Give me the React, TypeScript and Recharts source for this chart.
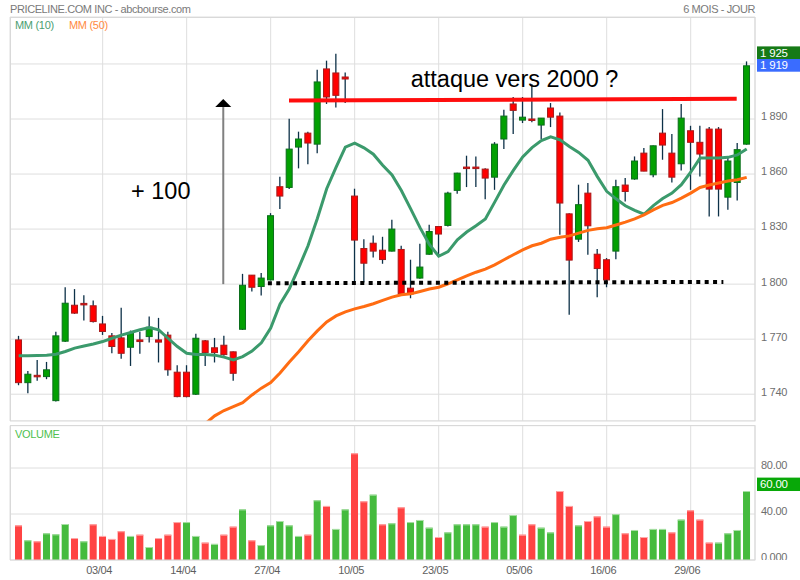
import React from 'react';
import {
  ComposedChart,
  Bar,
  Line,
  XAxis,
  YAxis,
  CartesianGrid,
  ReferenceLine,
  ReferenceDot,
} from 'recharts';

const FONT = "'Liberation Sans', Arial, Helvetica, sans-serif";

// ---- data ----
const opens = [
  1769.6, 1746.3, 1750.3, 1749.6, 1736.5, 1768.9, 1788.5, 1789.5, 1788.2, 1778.3,
  1771.8, 1770.7, 1765.6, 1769.6, 1771.4, 1769.6, 1772.2, 1752.0, 1752.0, 1740.0,
  1769.1, 1765.3, 1766.7, 1763.1, 1775.4, 1804.9, 1798.7, 1802.3, 1853.1, 1852.7,
  1874.7, 1882.3, 1876.3, 1917.3, 1915.1, 1912.9, 1848.0, 1819.4, 1822.3, 1818.5,
  1818.0, 1818.9, 1797.8, 1803.3, 1816.3, 1831.4, 1832.0, 1851.1, 1863.8, 1863.8,
  1862.7, 1858.3, 1879.1, 1898.2, 1889.4, 1890.0, 1886.7, 1896.0, 1891.6, 1838.3,
  1824.5, 1849.6, 1816.3, 1813.3, 1818.0, 1854.0, 1857.3, 1871.4, 1859.6, 1882.3,
  1871.4, 1865.6, 1883.6, 1877.3, 1884.5, 1884.5, 1847.4, 1855.4, 1876.3,
];
const highs = [
  1771.8, 1752.7, 1758.7, 1757.6, 1774.0, 1798.3, 1797.3, 1794.0, 1791.1, 1782.7,
  1773.3, 1787.1, 1774.7, 1774.0, 1782.3, 1781.6, 1774.0, 1755.8, 1755.8, 1772.9,
  1769.6, 1770.7, 1771.8, 1763.3, 1805.6, 1805.0, 1806.0, 1838.7, 1858.5, 1890.2,
  1883.1, 1883.1, 1916.9, 1921.8, 1925.6, 1915.3, 1852.0, 1824.5, 1826.5, 1825.8,
  1835.1, 1820.9, 1813.3, 1822.0, 1832.3, 1831.5, 1850.3, 1860.7, 1870.0, 1869.6,
  1863.2, 1877.4, 1895.1, 1902.0, 1902.0, 1909.1, 1890.6, 1898.7, 1893.6, 1838.7,
  1854.2, 1855.1, 1819.1, 1814.2, 1856.9, 1857.8, 1869.6, 1874.2, 1875.5, 1895.4,
  1881.8, 1898.2, 1886.3, 1886.3, 1885.6, 1885.6, 1869.3, 1876.9, 1921.4,
];
const lows = [
  1744.9, 1740.5, 1747.4, 1748.2, 1736.0, 1768.5, 1783.8, 1780.2, 1779.1, 1772.3,
  1762.3, 1759.3, 1755.4, 1762.0, 1768.2, 1757.3, 1750.0, 1738.3, 1738.3, 1739.6,
  1755.4, 1757.3, 1760.9, 1747.4, 1775.0, 1796.0, 1793.8, 1802.0, 1840.9, 1851.8,
  1863.1, 1865.4, 1871.4, 1898.2, 1896.3, 1898.7, 1801.4, 1800.9, 1814.5, 1811.1,
  1817.8, 1794.5, 1792.3, 1803.0, 1816.0, 1816.0, 1831.4, 1849.3, 1852.9, 1852.9,
  1846.3, 1851.4, 1873.6, 1881.8, 1887.8, 1888.2, 1879.1, 1885.6, 1826.9, 1783.3,
  1823.0, 1816.0, 1792.9, 1798.3, 1813.6, 1845.1, 1856.9, 1861.5, 1858.3, 1867.8,
  1855.4, 1862.0, 1851.4, 1858.7, 1836.9, 1836.9, 1840.5, 1845.6, 1876.0,
];
const closes = [
  1746.3, 1750.9, 1749.6, 1753.3, 1771.8, 1789.6, 1784.2, 1789.1, 1779.6, 1774.2,
  1766.0, 1762.3, 1773.6, 1768.7, 1776.5, 1768.4, 1753.3, 1738.7, 1738.7, 1770.5,
  1762.7, 1762.7, 1761.6, 1751.4, 1799.4, 1798.3, 1803.3, 1837.3, 1848.0, 1873.6,
  1879.1, 1876.9, 1910.2, 1902.0, 1902.9, 1911.8, 1824.0, 1811.4, 1818.0, 1813.4,
  1830.0, 1794.7, 1794.7, 1809.3, 1828.7, 1827.3, 1849.6, 1860.5, 1863.2, 1863.2,
  1857.8, 1876.3, 1891.6, 1894.7, 1891.0, 1889.3, 1890.5, 1891.0, 1844.2, 1813.1,
  1843.3, 1831.8, 1808.5, 1802.3, 1853.1, 1850.5, 1867.1, 1861.6, 1875.4, 1875.8,
  1858.3, 1890.5, 1877.3, 1870.9, 1851.8, 1851.8, 1867.1, 1873.3, 1919.0,
];
const ma10 = [
  1760.9, 1760.9, 1761.1, 1761.3, 1761.8, 1763.3, 1765.1, 1766.3, 1767.4, 1768.7,
  1770.5, 1772.2, 1773.6, 1775.1, 1776.3, 1775.1, 1770.5, 1766.0, 1762.3, 1761.6,
  1761.6, 1761.3, 1760.2, 1758.7, 1760.5, 1763.5, 1768.0, 1776.0, 1789.1, 1797.5,
  1808.9, 1820.9, 1835.8, 1852.0, 1863.6, 1874.7, 1876.8, 1874.3, 1870.8, 1864.8,
  1859.5, 1851.0, 1841.0, 1830.8, 1821.6, 1815.2, 1817.7, 1824.2, 1828.4, 1831.8,
  1835.5, 1844.7, 1854.0, 1862.0, 1869.3, 1874.4, 1878.2, 1880.3, 1878.7, 1875.0,
  1871.8, 1867.5, 1858.6, 1850.6, 1846.5, 1842.7, 1840.2, 1838.1, 1842.8, 1846.7,
  1849.6, 1854.2, 1861.0, 1868.7, 1868.7, 1868.7, 1869.1, 1870.4, 1873.6,
];
const ma50 = [
  null, null, null, null, null, null, null, null, null, null,
  null, null, null, null, null, null, null, null, null, null,
  1724.0, 1728.2, 1731.1, 1733.3, 1735.4, 1739.6, 1743.3, 1746.3, 1751.6, 1757.6,
  1763.1, 1769.1, 1774.5, 1779.4, 1782.7, 1784.9, 1786.5, 1787.8, 1789.3, 1791.1,
  1792.9, 1794.2, 1794.7, 1796.0, 1797.3, 1798.3, 1800.2, 1802.3, 1804.5, 1806.5,
  1808.2, 1810.5, 1813.3, 1816.0, 1818.7, 1820.9, 1822.3, 1824.5, 1825.6, 1826.3,
  1827.8, 1829.3, 1830.2, 1830.7, 1832.2, 1833.8, 1835.6, 1837.8, 1840.5, 1842.9,
  1844.5, 1846.9, 1849.6, 1852.7, 1854.0, 1855.1, 1856.2, 1856.9, 1858.2,
];
const volumes = [
  30.1, 17.1, 16.2, 23.2, 22.3, 31.3, 19.1, 16.2, 31.0, 20.9,
  18.3, 25.0, 20.9, 22.0, 11.3, 19.1, 22.0, 33.0, 33.0, 20.9,
  15.1, 14.0, 22.0, 29.0, 44.0, 17.1, 13.0, 30.1, 33.9, 30.1,
  20.9, 22.0, 51.9, 47.0, 27.0, 44.0, 92.8, 51.0, 56.8, 31.0,
  31.9, 45.8, 33.0, 34.8, 28.1, 20.0, 24.0, 31.0, 31.0, 31.0,
  29.0, 33.0, 29.0, 39.1, 22.0, 31.0, 28.1, 24.0, 60.0, 47.0,
  30.1, 33.9, 37.9, 29.0, 39.9, 23.2, 26.1, 20.0, 27.0, 27.0,
  24.0, 35.1, 43.2, 35.1, 15.1, 15.1, 23.2, 26.1, 60.0,
];
const dateTickIdx = [9, 18, 27, 36, 45, 54, 63, 72];
const dateLabels = ['03/04', '14/04', '27/04', '10/05', '23/05', '05/06', '16/06', '29/06'];
const priceTicks = [1740, 1770, 1800, 1830, 1860, 1890, 1920];
const volTicks = [0, 40, 80];

const resistance = [{ x: 28.96, y: 1900.1 }, { x: 76.93, y: 1901.0 }];
const support = [{ x: 26.7, y: 1800.5 }, { x: 75.5, y: 1801.2 }];
const arrowX = 21.92;
const arrowFrom = 1800;
const arrowTo = 1896.5;
const arrowTip = 1900.9;
const lastHigh = 1925;
const lastClose = 1919;
const lastVol = 60;

const X_DOMAIN: [number, number] = [-0.93, 78.89];
const PRICE_DOMAIN: [number, number] = [1725.4, 1945.6];
const VOL_DOMAIN: [number, number] = [0, 116.8];

const rows = opens.map((o, i) => ({
  i,
  open: o,
  high: highs[i],
  low: lows[i],
  close: closes[i],
  ma10: ma10[i],
  ma50: ma50[i],
  vol: volumes[i],
  up: closes[i] >= o,
  volUp: i === 0 ? closes[0] >= opens[0] : closes[i] >= closes[i - 1],
}));

const fmtPrice = (v: number) => {
  const t = Math.floor(v / 1000);
  const r = String(Math.round(v % 1000)).padStart(3, '0');
  return `${t} ${r}`;
};
const fmtVol = (v: number) => (v === 0 ? '0.000' : v.toFixed(2));

const WICK = '#0d3148';

const Candle = (props: any) => {
  const { x, y, width, height, payload } = props;
  if (!payload) return <g />;
  const { open, close, high, low, up } = payload;
  const top = Math.min(y, y + height);
  const h = Math.abs(height);
  const span = high - low || 1;
  const py = (v: number) => top + ((high - v) / span) * h;
  const cx = x + width / 2;
  const yo = py(open);
  const yc = py(close);
  const bt = Math.min(yo, yc);
  const bh = Math.max(Math.abs(yo - yc), 1.5);
  return (
    <g>
      <line x1={cx} x2={cx} y1={top} y2={top + h} stroke={WICK} strokeWidth={1.3} />
      <rect
        x={x + 0.5}
        y={bt}
        width={width - 1}
        height={bh}
        fill={up ? '#02a002' : '#ff0000'}
        stroke={up ? '#0b6e1c' : '#a81a1a'}
        strokeWidth={1}
      />
    </g>
  );
};

const VolBar = (props: any) => {
  const { x, y, width, height, payload } = props;
  if (!payload) return <g />;
  const top = Math.min(y, y + height);
  const h = Math.abs(height);
  const up = payload.volUp;
  return (
    <g>
      <rect x={x} y={top} width={width} height={h} fill={up ? '#45bb3e' : '#ff4343'} />
      <rect x={x} y={top} width={width} height={1} fill={up ? '#a9dfa6' : '#ffaaaa'} />
    </g>
  );
};

const PriceTick = (p: any) => {
  const v = p.payload.value;
  if (v === 1920) return <g />;
  return (
    <text x={p.x} y={p.y - 2.5} dy="0.355em" textAnchor="start" fill="#6e6e6e" fontSize={11} fontFamily={FONT} letterSpacing={-0.3}>
      {fmtPrice(v)}
    </text>
  );
};

const VolTick = (p: any) => {
  const v = p.payload.value;
  const t = (
    <text x={p.x} y={p.y - 2.5} dy="0.355em" textAnchor="start" fill="#6e6e6e" fontSize={11} fontFamily={FONT} letterSpacing={-0.3}>
      {fmtVol(v)}
    </text>
  );
  if (v === 0) {
    return (
      <svg x={0} y={0} width={800} height={p.y} overflow="hidden">
        {t}
      </svg>
    );
  }
  return t;
};

const DateTick = (p: any) => {
  const idx = dateTickIdx.indexOf(p.payload.value);
  return (
    <text x={p.x - 3.5} y={p.y} dy="0.71em" textAnchor="middle" fill="#5e5e5e" fontSize={11} fontFamily={FONT} letterSpacing={-0.3}>
      {idx >= 0 ? dateLabels[idx] : ''}
    </text>
  );
};

const ArrowHead = (p: any) => {
  const { cx, cy } = p;
  return <polygon points={`${cx},${cy} ${cx - 8},${cy + 8} ${cx + 8},${cy + 8}`} fill="#000" />;
};

const makeBox = (label: string, fill: string, above: number, below: number) => (p: any) => {
  const { cx, cy } = p;
  return (
    <g>
      <rect x={cx + 2} y={cy - above} width={45} height={above + below} fill={fill} />
      <text x={cx + 5} y={cy - above + (above + below) / 2} dy="0.355em" fill="#fff" fontSize={11.5} fontFamily={FONT} letterSpacing={-0.2}>
        {label}
      </text>
    </g>
  );
};

const HighBox = makeBox(fmtPrice(lastHigh), '#167a16', 8.4, 4.2);
const CloseBox = makeBox(fmtPrice(lastClose), '#3a6cff', 6.8, 5.9);
const VolBox = makeBox(fmtVol(lastVol), '#08a808', 13.4, 0);

export default function App() {
  return (
    <div style={{ position: 'absolute', left: 0, top: 0, width: 800, height: 580, background: '#fff', overflow: 'hidden' }}>
      <div style={{ position: 'absolute', left: 0, top: 0 }}>
        <ComposedChart width={800} height={421} data={rows} margin={{ top: 17, right: 0, left: 10, bottom: 0 }}>
          <CartesianGrid stroke="#dedede" strokeWidth={1} />
          <XAxis dataKey="i" type="number" domain={X_DOMAIN} ticks={dateTickIdx} hide allowDataOverflow interval={0} />
          <YAxis
            orientation="right"
            width={45}
            type="number"
            domain={PRICE_DOMAIN}
            ticks={priceTicks}
            allowDataOverflow
            axisLine={false}
            tickLine={false}
            tickSize={0}
            tickMargin={6}
            interval={0}
            tick={PriceTick}
          />
          <Bar dataKey={(d: any) => [d.low, d.high]} barSize={7} shape={Candle} isAnimationActive={false} />
          <Line type="linear" dataKey="ma10" stroke="#3b9a6c" strokeWidth={3} dot={false} activeDot={false} isAnimationActive={false} />
          <Line type="linear" dataKey="ma50" stroke="#ff6c12" strokeWidth={3} dot={false} activeDot={false} isAnimationActive={false} />
          <ReferenceLine segment={resistance} stroke="#ff0d0d" strokeWidth={4} ifOverflow="visible" />
          <ReferenceLine segment={support} stroke="#000" strokeWidth={4} strokeDasharray="4 4.4" ifOverflow="visible" />
          <ReferenceLine
            segment={[{ x: arrowX, y: arrowFrom }, { x: arrowX, y: arrowTo }]}
            stroke="#808080"
            strokeWidth={2}
            ifOverflow="visible"
          />
          <ReferenceDot x={arrowX} y={arrowTip} ifOverflow="visible" shape={ArrowHead} />
          <ReferenceDot x={X_DOMAIN[1]} y={lastHigh} ifOverflow="visible" shape={HighBox} />
          <ReferenceDot x={X_DOMAIN[1]} y={lastClose} ifOverflow="visible" shape={CloseBox} />
        </ComposedChart>
      </div>
      <div style={{ position: 'absolute', left: 0, top: 421 }}>
        <ComposedChart width={800} height={159} data={rows} margin={{ top: 4.7, right: 0, left: 10, bottom: 0 }}>
          <CartesianGrid stroke="#dedede" strokeWidth={1} />
          <XAxis
            dataKey="i"
            type="number"
            domain={X_DOMAIN}
            ticks={dateTickIdx}
            allowDataOverflow
            height={20}
            axisLine={false}
            tickLine={false}
            tickSize={0}
            tickMargin={6}
            interval={0}
            tick={DateTick}
          />
          <YAxis
            orientation="right"
            width={45}
            type="number"
            domain={VOL_DOMAIN}
            ticks={volTicks}
            allowDataOverflow
            axisLine={false}
            tickLine={false}
            tickSize={0}
            tickMargin={6}
            interval={0}
            tick={VolTick}
          />
          <Bar dataKey="vol" barSize={7} shape={VolBar} isAnimationActive={false} />
          <ReferenceDot x={X_DOMAIN[1]} y={lastVol} ifOverflow="visible" shape={VolBox} />
        </ComposedChart>
      </div>
      <svg width={800} height={580} style={{ position: 'absolute', left: 0, top: 0, pointerEvents: 'none' }}>
        <rect x={10.5} y={17.5} width={744.5} height={403.5} fill="none" stroke="#d9d9d9" />
        <rect x={10.5} y={425.5} width={744.5} height={134.5} fill="none" stroke="#d9d9d9" />
        <g fontFamily={FONT}>
          <text x={10} y={13.3} fontSize={11} fill="#7a7a7a" letterSpacing={-0.4}>PRICELINE.COM INC - abcbourse.com</text>
          <text x={755} y={13.3} fontSize={11} fill="#7a7a7a" textAnchor="end" letterSpacing={-0.4}>6 MOIS - JOUR</text>
          <text x={15} y={29} fontSize={11} fill="#4c9e72" letterSpacing={-0.3}>MM (10)</text>
          <text x={69} y={29} fontSize={11} fill="#ff8a45" letterSpacing={-0.3}>MM (50)</text>
          <text x={15} y={438.3} fontSize={11} fill="#4fbf4f" letterSpacing={-0.3}>VOLUME</text>
          <text x={410.7} y={86.7} fontSize={23.5} fill="#000">attaque vers 2000 ?</text>
          <text x={131} y={198.5} fontSize={23.5} fill="#000">+ 100</text>
        </g>
      </svg>
    </div>
  );
}
